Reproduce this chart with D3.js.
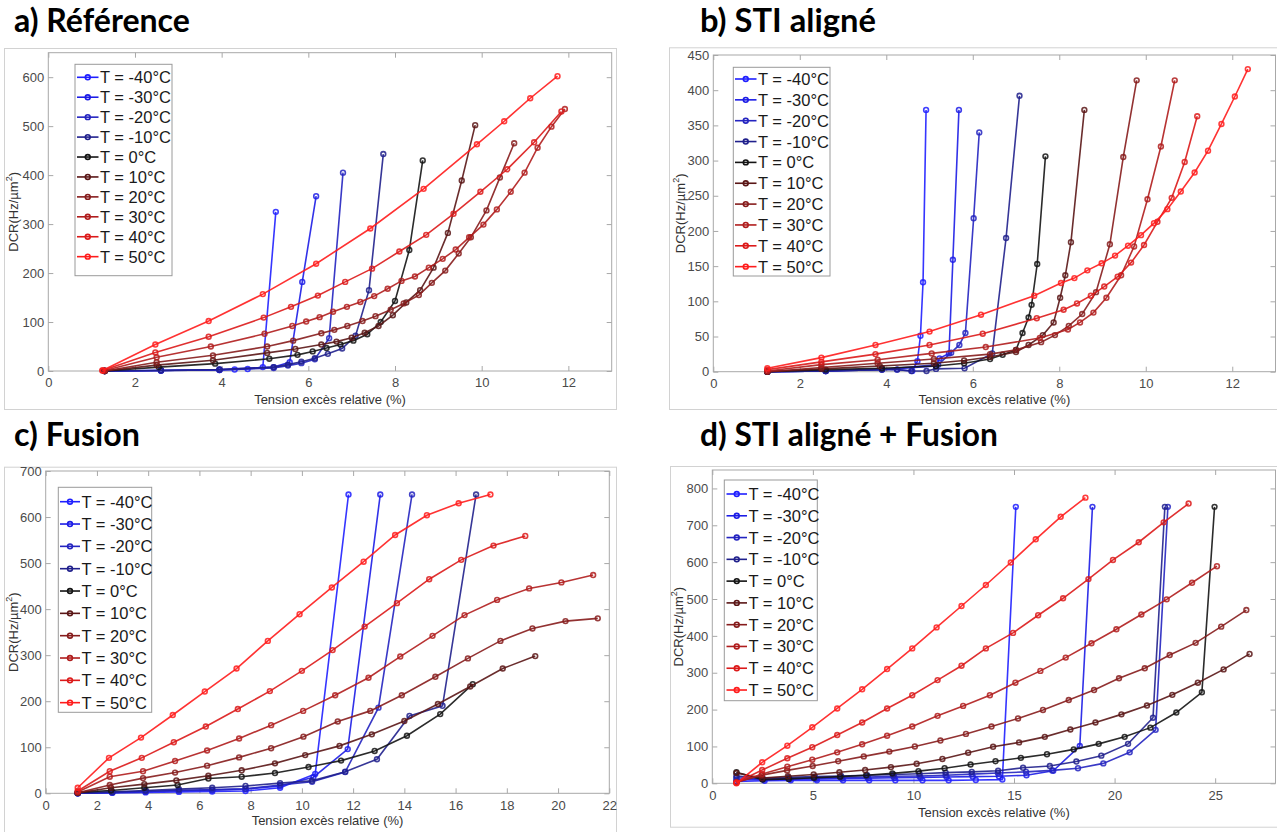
<!DOCTYPE html>
<html><head><meta charset="utf-8">
<script src="https://cdn.jsdelivr.net/npm/d3@7"></script>
<style>body{margin:0;background:#fff}svg{display:block}</style>
</head><body>
<svg id="c" width="1277" height="832"></svg>
<script>
// ---- data ----
const temps = ["-40","-30","-20","-10","0","10","20","30","40","50"];
const seriesColors = ["#1f1fff","#1c1ce6","#2424c0","#20208c","#141414","#5a1616","#861c1c","#b01d1d","#dc1a1a","#ff1c1c"];

const ticksA_x = [0,2,4,6,8,10,12], ticksA_y = [0,100,200,300,400,500,600];
const ticksB_x = [0,2,4,6,8,10,12], ticksB_y = [0,50,100,150,200,250,300,350,400,450];
const ticksC_x = [0,2,4,6,8,10,12,14,16,18,20,22], ticksC_y = [0,100,200,300,400,500,600,700];
const ticksD_x = [0,5,10,15,20,25], ticksD_y = [0,100,200,300,400,500,600,700,800];

const refData = [
 [[1.3,0],[2.6,1],[3.95,2],[4.3,3],[4.6,4],[4.95,8],[5.25,325]],
 [[1.3,0],[2.6,1],[3.95,3],[5.2,8],[5.57,18],[5.86,182],[6.18,357]],
 [[1.3,0],[2.6,1],[3.95,2],[5.2,6],[5.53,11],[5.84,16],[6.15,24],[6.48,67],[6.8,405]],
 [[1.3,0],[2.6,1],[3.95,3],[5.2,8],[5.53,13],[5.84,19],[6.15,26],[6.45,35],[6.78,46],[7.09,72],[7.4,165],[7.73,443]],
 [[1.3,0],[2.55,8],[3.85,15],[5.1,25],[5.75,33],[6.1,40],[6.42,47],[6.74,54],[7.04,62],[7.36,75],[7.67,100],[8.0,143],[8.33,247],[8.64,430]],
 [[1.3,0],[2.5,12],[3.8,22],[5.05,37],[5.7,45],[6.3,54],[6.65,60],[7.0,68],[7.3,78],[7.62,92],[7.95,114],[8.26,140],[8.58,165],[8.89,211],[9.22,282],[9.54,389],[9.85,502]],
 [[1.3,0],[2.5,18],[3.8,32],[5.05,50],[5.65,62],[6.3,77],[6.6,84],[6.9,92],[7.25,102],[7.55,112],[7.9,125],[8.2,138],[8.55,155],[8.85,180],[9.16,205],[9.47,240],[9.75,273],[10.11,328],[10.42,395],[10.75,465]],
 [[1.3,1],[2.5,28],[3.75,50],[4.99,76],[5.63,92],[5.95,101],[6.26,110],[6.57,121],[6.89,131],[7.2,141],[7.52,153],[7.83,168],[8.15,184],[8.46,193],[8.78,211],[9.1,229],[9.4,248],[9.71,273],[10.04,299],[10.35,330],[10.67,366],[10.99,405],[11.29,456],[11.61,499],[11.92,535]],
 [[1.25,1],[2.47,38],[3.7,70],[4.97,109],[5.6,131],[6.22,154],[6.85,182],[7.47,209],[8.1,244],[8.72,278],[9.35,321],[9.97,366],[10.59,412],[11.21,467],[11.84,530]],
 [[1.25,1],[2.47,54],[3.7,102],[4.95,157],[6.18,219],[7.43,291],[8.66,372],[9.89,463],[10.52,510],[11.12,557],[11.75,602]]
];

const stiData = [
 [[1.25,0],[2.6,1],[3.9,4],[4.25,3],[4.6,1],[4.72,15],[4.79,51],[4.85,127],[4.92,372]],
 [[1.25,0],[2.6,1],[3.9,3],[5.15,8],[5.23,19],[5.45,26],[5.54,159],[5.68,372]],
 [[1.25,0],[2.6,1],[3.9,3],[5.2,10],[5.5,27],[5.69,38],[5.83,55],[6.02,218],[6.15,340]],
 [[1.25,0],[2.6,1],[3.9,3],[4.25,3],[4.58,1],[4.93,1],[5.15,4],[5.81,5],[6.45,26],[6.77,190],[7.08,392]],
 [[1.25,0],[2.6,3],[3.9,5],[5.15,8],[5.8,12],[6.4,18],[6.69,24],[7.0,31],[7.15,55],[7.29,77],[7.36,95],[7.49,153],[7.68,306]],
 [[1.25,0],[2.5,4],[3.85,8],[5.1,12],[5.8,16],[6.4,21],[7.0,28],[7.29,38],[7.62,52],[7.87,70],[8.02,105],[8.14,137],[8.27,184],[8.58,372]],
 [[1.25,0],[2.5,6],[3.8,12],[5.1,18],[6.4,25],[7.0,31],[7.58,42],[7.9,52],[8.22,65],[8.53,82],[8.85,113],[9.17,181],[9.48,305],[9.79,414]],
 [[1.25,1],[2.5,10],[3.8,17],[5.05,26],[6.3,35],[7.55,48],[8.2,60],[8.48,70],[8.79,84],[9.09,105],[9.43,137],[9.73,178],[10.04,245],[10.35,320],[10.67,414]],
 [[1.25,3],[2.5,14],[3.75,25],[5.0,38],[6.23,54],[7.48,76],[8.1,88],[8.41,97],[8.73,108],[9.04,121],[9.35,135],[9.66,155],[9.96,180],[10.27,213],[10.6,247],[10.9,298],[11.19,363]],
 [[1.25,5],[2.5,20],[3.75,38],[5.0,57],[6.19,81],[7.42,108],[8.04,126],[8.35,133],[8.65,144],[8.98,154],[9.29,165],[9.59,179],[9.89,194],[10.19,211],[10.5,231],[10.81,256],[11.13,283],[11.44,314],[11.75,352],[12.06,391],[12.36,430]]
];

const fusionData = [
 [[1.25,0],[2.6,1],[3.9,2],[5.2,3],[6.5,4],[7.8,5],[9.15,12],[10.52,42],[11.82,649]],
 [[1.25,0],[2.6,2],[3.9,4],[5.2,6],[6.5,7],[7.8,9],[9.15,16],[10.45,35],[11.79,96],[13.06,649]],
 [[1.25,0],[2.6,2],[3.9,4],[5.2,6],[6.5,8],[7.8,10],[9.15,18],[10.4,25],[11.69,46],[12.99,186],[14.3,649]],
 [[1.25,0],[2.6,3],[3.9,6],[5.2,9],[6.5,12],[7.8,16],[9.15,22],[10.39,27],[11.69,47],[12.93,74],[14.2,168],[15.49,190],[16.8,649]],
 [[1.25,2],[2.55,6],[3.85,12],[5.15,18],[6.35,32],[7.65,36],[8.95,44],[10.26,57],[11.53,71],[12.84,92],[14.1,125],[15.4,172],[16.67,237]],
 [[1.25,1],[2.55,12],[3.85,20],[5.1,28],[6.35,38],[7.65,50],[8.95,65],[10.13,83],[11.47,103],[12.73,128],[14.0,157],[15.31,194],[16.57,232],[17.84,271],[19.11,298]],
 [[1.25,1],[2.5,18],[3.8,33],[5.05,45],[6.3,60],[7.55,78],[8.8,98],[10.06,123],[11.4,156],[12.67,179],[13.9,213],[15.21,253],[16.48,293],[17.75,331],[19.0,358],[20.29,374],[21.55,380]],
 [[1.25,3],[2.5,36],[3.8,48],[5.05,70],[6.3,93],[7.55,119],[8.8,148],[10.05,179],[11.3,213],[12.6,251],[13.84,297],[15.1,342],[16.35,387],[17.62,420],[18.87,445],[20.13,458],[21.37,474]],
 [[1.25,5],[2.5,48],[3.75,77],[5.0,111],[6.25,145],[7.5,183],[8.75,222],[10.0,266],[11.2,311],[12.45,362],[13.71,413],[14.97,465],[16.22,507],[17.48,538],[18.72,559]],
 [[1.25,12],[2.47,77],[3.72,121],[4.96,170],[6.21,221],[7.45,271],[8.67,331],[9.91,389],[11.17,447],[12.41,503],[13.64,561],[14.88,604],[16.12,630],[17.36,649]]
];

const stiFusionData = [
 [[1.2,5],[2.6,7],[3.9,8],[5.2,8],[6.5,8],[7.8,8],[9.1,8],[10.45,8],[11.75,8],[13.1,9],[14.42,10],[15.09,750]],
 [[1.2,10],[2.55,10],[3.85,11],[5.15,12],[6.45,13],[7.75,14],[9.05,15],[10.35,16],[11.65,17],[12.95,18],[14.25,19],[15.62,22],[16.95,34],[18.27,101],[18.9,750]],
 [[1.2,15],[2.5,12],[3.8,13],[5.1,14],[6.4,16],[7.7,17],[9.0,19],[10.3,20],[11.6,22],[12.9,25],[14.2,28],[15.6,31],[16.9,35],[18.18,41],[19.44,54],[20.75,84],[22.04,145],[22.65,750]],
 [[1.2,20],[2.5,14],[3.8,16],[5.1,18],[6.4,20],[7.7,22],[9.0,24],[10.3,26],[11.6,29],[12.9,31],[14.21,34],[15.45,42],[16.78,47],[18.1,59],[19.34,75],[20.67,107],[21.91,178],[22.5,750]],
 [[1.2,30],[2.5,10],[3.8,12],[5.05,15],[6.35,18],[7.65,22],[8.95,27],[10.25,33],[11.55,41],[12.84,51],[14.08,60],[15.34,69],[16.64,79],[17.97,92],[19.21,107],[20.5,126],[21.78,151],[23.07,192],[24.34,247],[24.97,750]],
 [[1.2,28],[2.48,14],[3.76,19],[5.04,24],[6.32,30],[7.6,36],[8.88,44],[10.16,53],[11.44,66],[12.72,83],[13.96,99],[15.25,111],[16.53,126],[17.8,146],[19.05,165],[20.34,187],[21.61,211],[22.87,240],[24.14,273],[25.42,309],[26.71,351]],
 [[1.2,3],[2.45,22],[3.72,35],[4.99,47],[6.26,60],[7.53,73],[8.8,86],[10.07,100],[11.34,116],[12.61,134],[13.88,154],[15.2,176],[16.44,199],[17.72,226],[18.98,253],[20.22,285],[21.5,312],[22.74,348],[24.03,381],[25.3,425],[26.55,470]],
 [[1.2,2],[2.48,25],[3.73,45],[4.97,64],[6.21,84],[7.45,106],[8.69,129],[9.94,154],[11.2,183],[12.47,210],[13.8,239],[15.07,273],[16.31,305],[17.57,341],[18.85,380],[20.09,418],[21.33,458],[22.59,499],[23.85,544],[25.09,589]],
 [[1.2,2],[2.48,36],[3.73,68],[4.97,98],[6.21,131],[7.45,165],[8.69,203],[9.94,239],[11.2,280],[12.39,319],[13.6,366],[14.95,408],[16.2,456],[17.44,502],[18.7,554],[19.92,606],[21.2,654],[22.44,708],[23.68,759]],
 [[1.2,0],[2.48,57],[3.73,102],[4.97,152],[6.21,203],[7.45,255],[8.69,310],[9.94,366],[11.15,423],[12.39,481],[13.6,538],[14.84,599],[16.08,662],[17.32,723],[18.55,775]]
];

const titles = ["a) Référence","b) STI aligné","c) Fusion","d) STI aligné + Fusion"];
const xLabel = "Tension excès relative (%)";

// ---- layout ----
const panels = [
 {title:titles[0], tx:14, ty:32, tw:176, frame:[4,48,616,409], plot:[48.3,52.7,611.7,371], xdom:[0,13], ydom:[0,650], xt:ticksA_x, yt:ticksA_y, data:refData,
  leg:[75,64.3,172,275.7], row0:77.3, step:19.93, lx:77, tX:100, fs:16.5, ylx:15, xly:404},
 {title:titles[1], tx:700, ty:32, tw:176, frame:[669,47.3,1290,409], plot:[713.3,55,1275.5,371.7], xdom:[0,13], ydom:[0,450], xt:ticksB_x, yt:ticksB_y, data:stiData,
  leg:[733.3,67.3,830,276], row0:79, step:20.85, lx:735, tX:758, fs:16.5, ylx:681.5, xly:404},
 {title:titles[2], tx:14, ty:446, tw:126, frame:[4,466.7,616,840], plot:[45.7,471,609.3,793.3], xdom:[0,22], ydom:[0,700], xt:ticksC_x, yt:ticksC_y, data:fusionData,
  leg:[58.3,487.3,151.7,712.3], row0:501.7, step:22.33, lx:60, tX:81.5, fs:16.5, ylx:15, xly:825},
 {title:titles[3], tx:700, ty:446, tw:298, frame:[670,466,1290,826.7], plot:[712.3,470,1275.5,783.3], xdom:[0,28], ydom:[0,850], xt:ticksD_x, yt:ticksD_y, data:stiFusionData,
  leg:[724.3,480,817.3,700.7], row0:494, step:21.78, lx:726.5, tX:748.5, fs:16.5, ylx:680, xly:817}
];

const svg = d3.select("#c");
const axisCol = "#a8a8a8", tickCol = "#4a4a4a";
const FONT = "'Liberation Sans', Arial, sans-serif";

panels.forEach(p => {
  const g = svg.append("g");
  const [fx0,fy0,fx1,fy1] = p.frame;
  g.append("rect").attr("x",fx0+0.5).attr("y",fy0+0.5).attr("width",fx1-fx0).attr("height",fy1-fy0)
    .attr("fill","#fff").attr("stroke","#d2d2d2").attr("stroke-width",1);

  // title
  const t = g.append("text").attr("x",p.tx).attr("y",p.ty).text(p.title)
    .attr("font-family","Lato, 'Open Sans', sans-serif").attr("font-weight","bold").attr("font-size",30).attr("fill","#000");
  const w = t.node().getComputedTextLength();
  t.attr("font-size", 30*p.tw/w);

  const [L,T,R,B] = p.plot;
  const x = d3.scaleLinear().domain(p.xdom).range([L,R]);
  const y = d3.scaleLinear().domain(p.ydom).range([B,T]);

  const ax = (gen, tr, labels) => {
    const a = g.append("g").attr("transform",tr).call(gen);
    a.select(".domain").remove();
    a.selectAll("line").attr("stroke",axisCol);
    if (labels) a.selectAll("text").attr("fill",tickCol).attr("font-family",FONT).attr("font-size",13);
    else a.selectAll("text").remove();
  };
  ax(d3.axisBottom(x).tickValues(p.xt).tickSize(-5).tickPadding(7).tickFormat(d3.format("d")), `translate(0,${B})`, true);
  ax(d3.axisTop(x).tickValues(p.xt).tickSize(-5), `translate(0,${T})`, false);
  ax(d3.axisLeft(y).tickValues(p.yt).tickSize(-5).tickPadding(4).tickFormat(d3.format("d")), `translate(${L},0)`, true);
  ax(d3.axisRight(y).tickValues(p.yt).tickSize(-5), `translate(${R},0)`, false);
  g.append("rect").attr("x",L).attr("y",T).attr("width",R-L).attr("height",B-T)
    .attr("fill","none").attr("stroke",axisCol).attr("stroke-width",1);

  // axis labels
  g.append("text").attr("x",(L+R)/2).attr("y",p.xly).attr("text-anchor","middle")
    .attr("font-family",FONT).attr("font-size",13).attr("fill","#333").text(xLabel);
  const yl = g.append("text").attr("transform",`translate(${p.ylx},${(T+B)/2}) rotate(-90)`)
    .attr("text-anchor","middle").attr("dominant-baseline","middle")
    .attr("font-family",FONT).attr("font-size",13).attr("fill","#333");
  yl.append("tspan").text("DCR(Hz/µm");
  yl.append("tspan").attr("dy",-5).attr("font-size",9).text("2");
  yl.append("tspan").attr("dy",5).text(")");

  // series
  const line = d3.line().x(d=>x(d[0])).y(d=>y(d[1]));
  p.data.forEach((s,i) => {
    const c = seriesColors[i];
    g.append("path").datum(s).attr("d",line).attr("fill","none").attr("stroke",c)
      .attr("stroke-width",1.6).attr("stroke-opacity",0.9);
    g.selectAll(null).data(s).enter().append("circle")
      .attr("cx",d=>x(d[0])).attr("cy",d=>y(d[1])).attr("r",2.4)
      .attr("fill","none").attr("stroke",c).attr("stroke-width",1.6).attr("stroke-opacity",0.85);
  });

  // legend
  const [lx0,ly0,lx1,ly1] = p.leg;
  g.append("rect").attr("x",lx0).attr("y",ly0).attr("width",lx1-lx0).attr("height",ly1-ly0)
    .attr("fill","#fff").attr("stroke","#9a9a9a").attr("stroke-width",1);
  temps.forEach((tt,i) => {
    const ry = p.row0 + i*p.step;
    const c = seriesColors[i];
    g.append("line").attr("x1",p.lx).attr("x2",p.tX-1.5).attr("y1",ry).attr("y2",ry)
      .attr("stroke",c).attr("stroke-width",1.6);
    g.append("circle").attr("cx",(p.lx+p.tX-1.5)/2).attr("cy",ry).attr("r",2.4)
      .attr("fill","none").attr("stroke",c).attr("stroke-width",1.6);
    g.append("text").attr("x",p.tX).attr("y",ry).attr("dominant-baseline","central")
      .attr("font-family",FONT).attr("font-size",p.fs).attr("fill","#1a1a1a")
      .text(`T = ${tt}°C`);
  });
});
</script>
</body></html>
